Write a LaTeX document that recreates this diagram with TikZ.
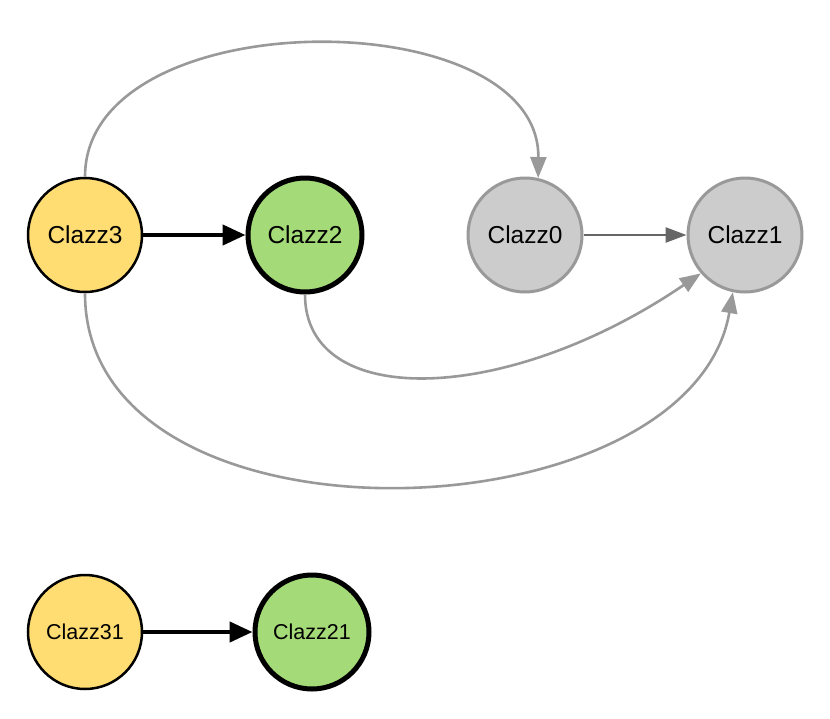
\documentclass[tikz,border=0pt]{standalone}
\usepackage{fontspec}
\setmainfont{Liberation Sans}
\usetikzlibrary{arrows.meta}
\definecolor{clazzyellow}{HTML}{FFDD73}
\definecolor{clazzgreen}{HTML}{A4DA77}
\definecolor{clazzgray}{HTML}{CCCCCC}
\definecolor{edgegray}{HTML}{999999}
\definecolor{edgedark}{HTML}{666666}
\tikzset{
  clazz/.style={
    circle,
    minimum size=114pt,
    inner sep=0pt,
    font=\fontsize{24.5}{28}\selectfont
  },
  root clazz/.style={
    clazz,
    fill=clazzyellow,
    draw=black,
    line width=2.5pt
  },
  leaf clazz/.style={
    clazz,
    fill=clazzgreen,
    draw=black,
    line width=5pt
  },
  lib clazz/.style={
    clazz,
    fill=clazzgray,
    draw=edgegray,
    line width=3pt
  },
  strong edge/.style={
    -{Triangle[length=23pt,width=20pt]},
    line width=4.5pt,
    color=black
  },
  weak edge/.style={
    -{Triangle[length=21pt,width=16pt]},
    line width=2.6pt,
    color=edgegray
  },
  lib edge/.style={
    -{Triangle[length=21pt,width=15pt]},
    line width=2.6pt,
    color=edgedark
  }
}
\begin{document}
\begin{tikzpicture}[x=1pt, y=-1pt]
    \useasboundingbox (0, 0) rectangle (830, 718);

    % classes
    \node[root clazz] (c3) at (85, 235) {Clazz3};
    \node[leaf clazz] (c2) at (305, 235) {Clazz2};
    \node[lib clazz] (c0) at (525, 235) {Clazz0};
    \node[lib clazz] (c1) at (745, 235) {Clazz1};

    \node[root clazz, font=\fontsize{21.5}{26}\selectfont] (c31) at (85, 632) {Clazz31};
    \node[leaf clazz, font=\fontsize{21.5}{26}\selectfont] (c21) at (312, 632) {Clazz21};

    % straight edges
    \draw[strong edge] (c3) -- (c2);
    \draw[strong edge] (c31) -- (c21);
    \draw[lib edge] (c0) -- (c1);

    % curved edges
    \draw[weak edge] (c3.north) .. controls (85, 0) and (540, 0) .. (c0.77);
    \draw[weak edge] (c2.south) .. controls (305, 410) and (506, 406) .. (c1.221);
    \draw[weak edge] (c3.south) .. controls (85, 560) and (690, 540) .. (c1.258);

\end{tikzpicture}
\end{document}
